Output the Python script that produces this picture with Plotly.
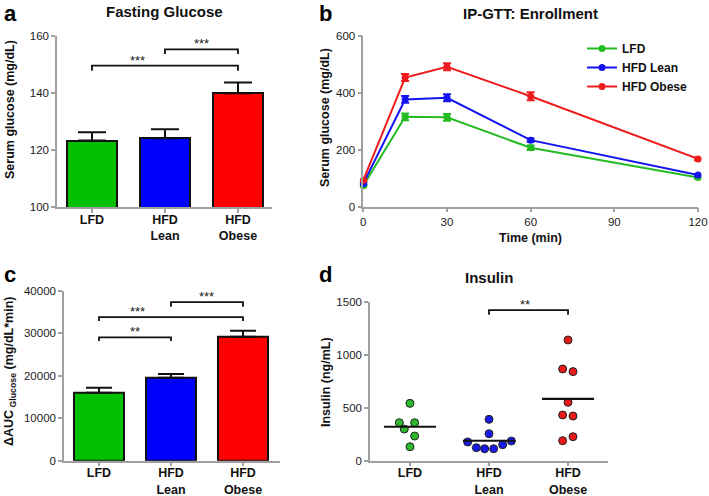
import numpy as np
import plotly.graph_objects as go

# ---------------- data ----------------
groups = ["LFD", "HFD<br>Lean", "HFD<br>Obese"]
bar_colors = ["#00c000", "#0000ff", "#ff0000"]

fasting_mean = [123.3, 124.1, 139.9]
fasting_sem = [2.9, 3.2, 3.8]

time_min = [0, 15, 30, 60, 120]
gtt_lfd = [74, 316, 314, 207, 103]
gtt_lfd_err = [4, 12, 12, 8, 5]
gtt_lean = [81, 377, 383, 234, 111]
gtt_lean_err = [4, 12, 12, 6, 4]
gtt_obese = [93, 454, 492, 388, 168]
gtt_obese_err = [4, 12, 12, 14, 5]

auc_mean = [16000, 19500, 29150]
auc_sem = [1150, 900, 1400]

ins_lfd = [542, 359, 359, 299, 233, 132]
ins_lean = [391, 255, 177, 186, 123, 113, 113, 151]
ins_obese = [1141, 867, 842, 552, 432, 422, 189, 227]
# horizontal swarm offsets (category units)
ins_lfd_jit = [0, -0.135, 0.059, -0.072, 0.059, 0]
ins_lean_jit = [0, 0, -0.27, 0.283, -0.16, -0.055, 0.059, 0.173]
ins_obese_jit = [0, -0.068, 0.063, 0, -0.068, 0.063, -0.068, 0.063]

# comparisons: (from idx, to idx, bracket level, drop, label, label x)
fasting_cmp = [(0, 2, 149.6, 1.8, "***", 0.62), (1, 2, 155.3, 1.6, "***", 1.5)]
auc_cmp = [(0, 1, 29000, 850, "**", 0.5), (0, 2, 33800, 950, "***", 0.53),
           (1, 2, 37300, 1100, "***", 1.5)]
ins_cmp = [(1, 2, 1424, 44, "**", 1.46)]

W, H = 709, 496
FONT = "Arial, Liberation Sans, sans-serif"
AX_COL = "#a0a0a0"
TXT = "#1a1a1a"

def px_x(p):
    return p / W

def px_y(p):
    return 1 - p / H

fig = go.Figure()

# ---- panel a ----
fig.add_trace(go.Bar(
    x=groups, y=fasting_mean, xaxis="x", yaxis="y", width=0.685,
    marker=dict(color=bar_colors, line=dict(color="#111", width=2)),
    error_y=dict(type="data", symmetric=False, array=fasting_sem,
                 arrayminus=[0] * 3, color="#111", thickness=2, width=14),
    showlegend=False))

# ---- panel b ----
gtt_colors = ["#22bb22", "#1414ee", "#ee1c1c"]
for name, ys, es, c in [("LFD", gtt_lfd, gtt_lfd_err, gtt_colors[0]),
                        ("HFD Lean", gtt_lean, gtt_lean_err, gtt_colors[1]),
                        ("HFD Obese", gtt_obese, gtt_obese_err, gtt_colors[2])]:
    fig.add_trace(go.Scatter(
        x=time_min, y=ys, name=name, xaxis="x2", yaxis="y2",
        mode="lines+markers", cliponaxis=False,
        line=dict(color=c, width=2), marker=dict(color=c, size=7),
        error_y=dict(type="data", array=es, color=c, thickness=2, width=4),
        showlegend=True))

# ---- panel c ----
fig.add_trace(go.Bar(
    x=groups, y=auc_mean, xaxis="x3", yaxis="y3", width=0.69,
    marker=dict(color=bar_colors, line=dict(color="#111", width=2)),
    error_y=dict(type="data", symmetric=False, array=auc_sem,
                 arrayminus=[0] * 3, color="#111", thickness=2, width=13),
    showlegend=False))

# ---- panel d ----
dot_colors = ["#2db82d", "#1a1ae6", "#e61a1a"]
shapes = []
for gi, (vals, jit) in enumerate([(ins_lfd, ins_lfd_jit), (ins_lean, ins_lean_jit),
                                  (ins_obese, ins_obese_jit)]):
    fig.add_trace(go.Scatter(
        x=[gi + j for j in jit], y=vals, xaxis="x4", yaxis="y4", mode="markers",
        cliponaxis=False,
        marker=dict(color=dot_colors[gi], size=8, line=dict(color="#222", width=1)),
        showlegend=False))
    m = float(np.mean(vals))
    shapes.append(dict(type="line", xref="x4", yref="y4", x0=gi - 0.33, x1=gi + 0.33,
                       y0=m, y1=m, line=dict(color="#111", width=2.2)))

annotations = []

def add_brackets(cmp, xr, yr):
    for i, j, lvl, drop, lab, lx in cmp:
        shapes.append(dict(type="path", xref=xr, yref=yr,
                           path=f"M {i},{lvl - drop} L {i},{lvl} L {j},{lvl} L {j},{lvl - drop}",
                           line=dict(color="#111", width=1.8)))
        annotations.append(dict(x=lx, y=lvl, xref=xr, yref=yr, text=lab,
                                showarrow=False, yanchor="bottom", yshift=-4,
                                font=dict(family=FONT, size=13, color=TXT)))

add_brackets(fasting_cmp, "x", "y")
add_brackets(auc_cmp, "x3", "y3")
add_brackets(ins_cmp, "x4", "y4")

# panel letters and titles
for lab, x, y, anc in [("a", 3, 0, "top"), ("b", 318, 0, "top"),
                       ("c", 3, 288, "bottom"), ("d", 318, 288, "bottom")]:
    annotations.append(dict(x=px_x(x), y=px_y(y), xref="paper", yref="paper", text=f"<b>{lab}</b>",
                            showarrow=False, xanchor="left", yanchor=anc, borderpad=0,
                            font=dict(family=FONT, size=22, color="#000")))
for t, x, y in [("Fasting Glucose", 164, 12), ("IP-GTT: Enrollment", 530, 13), ("Insulin", 489, 277)]:
    annotations.append(dict(x=px_x(x), y=px_y(y), xref="paper", yref="paper", text=f"<b>{t}</b>",
                            showarrow=False, xanchor="center", yanchor="middle",
                            font=dict(family=FONT, size=15, color="#111")))
# axis titles
for t, x, y in [("Serum glucose (mg/dL)", 10, 110), ("Serum glucose (mg/dL)", 325, 118),
                ("ΔAUC<sub> Glucose</sub> (mg/dL*min)", 10, 372), ("Insulin (ng/mL)", 326, 382)]:
    annotations.append(dict(x=px_x(x), y=px_y(y), xref="paper", yref="paper", text=f"<b>{t}</b>",
                            showarrow=False, xanchor="center", yanchor="middle", textangle=-90,
                            font=dict(family=FONT, size=12.5, color="#111")))
annotations.append(dict(x=px_x(530), y=px_y(238), xref="paper", yref="paper", text="<b>Time (min)</b>",
                        showarrow=False, xanchor="center", yanchor="middle",
                        font=dict(family=FONT, size=12.5, color="#111")))

def yax(dom, rng, dtick, anchor):
    return dict(domain=[px_y(dom[1]), px_y(dom[0])], range=rng, dtick=dtick, anchor=anchor,
                showline=True, linecolor=AX_COL, linewidth=1.5, ticks="outside", tickcolor=AX_COL,
                ticklen=4, tickwidth=1.5, showgrid=False, zeroline=False, automargin=False,
                tickformat="d", tickfont=dict(family=FONT, size=11.5, color=TXT))

def xax(dom, rng, anchor, **kw):
    d = dict(domain=[px_x(dom[0]), px_x(dom[1])], range=rng, anchor=anchor,
             showline=True, linecolor=AX_COL, linewidth=1.5, ticks="outside", tickcolor=AX_COL,
             ticklen=4, tickwidth=1.5, showgrid=False, zeroline=False, automargin=False,
             ticklabeloverflow="allow")
    d.update(kw)
    return d

cat_font = dict(family=FONT, size=12.5, color="#111", weight="bold")

fig.update_layout(
    template="none",
    width=W, height=H, margin=dict(l=0, r=0, t=0, b=0, autoexpand=False),
    paper_bgcolor="white", plot_bgcolor="white",
    xaxis=xax((57, 272), [-0.479, 2.466], "y", type="category", tickfont=cat_font,
              ticklabelstandoff=-4),
    yaxis=yax((36, 207), [100, 160], 20, "x"),
    xaxis2=xax((363.3, 698), [0, 120], "y2", tickvals=[0, 30, 60, 90, 120],
               tickfont=dict(family=FONT, size=11.5, color=TXT)),
    yaxis2=yax((36, 206.7), [0, 600], 200, "x2"),
    xaxis3=xax((64, 280), [-0.486, 2.514], "y3", type="category", tickfont=cat_font,
               ticklabelstandoff=-4),
    yaxis3=yax((290.7, 460.7), [0, 40000], 10000, "x3"),
    xaxis4=xax((370, 608), [-0.506, 2.506], "y4", tickvals=[0, 1, 2], ticktext=groups,
               tickfont=cat_font, ticklabelstandoff=-4),
    yaxis4=yax((302, 460.7), [0, 1500], 500, "x4"),
    legend=dict(x=px_x(582), y=px_y(34), xanchor="left", yanchor="top",
                font=dict(family=FONT, size=12, color="#111", weight="bold"),
                bgcolor="rgba(0,0,0,0)", itemwidth=30, tracegroupgap=0),
    shapes=shapes, annotations=annotations, bargap=0,
)

fig.write_html("out.html", config={"displayModeBar": False},
               post_script="document.body.style.margin='0';")
